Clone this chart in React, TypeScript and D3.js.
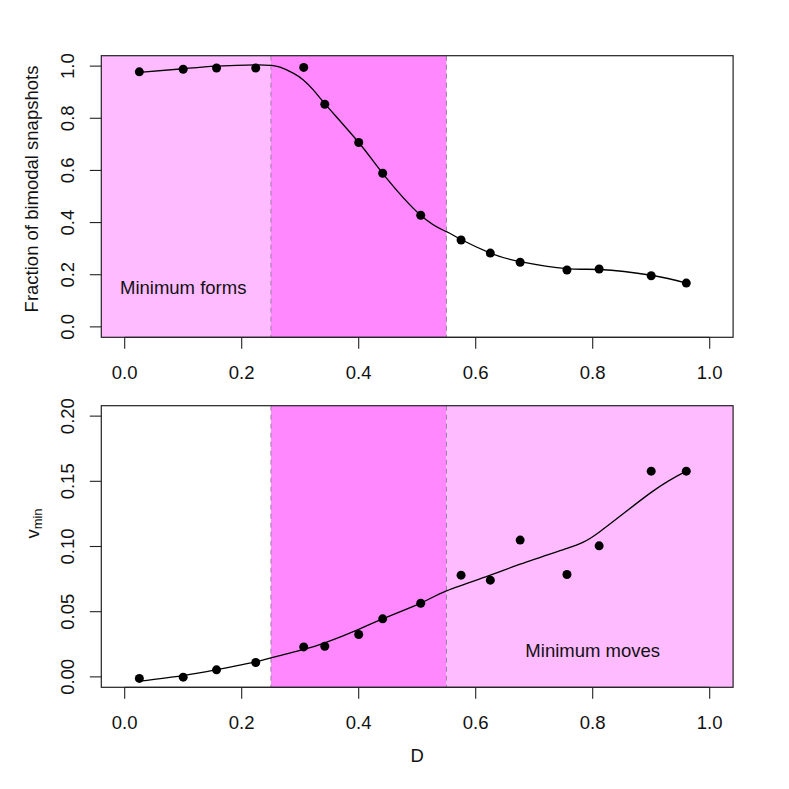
import React from "react";
import * as d3 from "d3";

// ---- data ----
const dValues = [0.025, 0.1, 0.157, 0.224, 0.306, 0.342, 0.4, 0.441, 0.506, 0.575, 0.625, 0.676, 0.756, 0.811, 0.9, 0.96];
const bimodalFraction = [0.978, 0.988, 0.993, 0.993, 0.995, 0.854, 0.707, 0.589, 0.428, 0.333, 0.283, 0.248, 0.218, 0.222, 0.196, 0.168];
const vMin = [-0.0012, -0.0002, 0.0054, 0.011, 0.023, 0.0235, 0.0325, 0.0445, 0.0565, 0.078, 0.0742, 0.1049, 0.0785, 0.1005, 0.1578, 0.1578];

const fitTopX = [0.025, 0.1, 0.157, 0.224, 0.25, 0.2655, 0.288, 0.3053, 0.3224, 0.342, 0.4, 0.441, 0.506, 0.55, 0.575, 0.625, 0.676, 0.756, 0.811, 0.9, 0.96];
const fitTopY = [0.976, 0.99, 1.0, 1.005, 1.003, 0.996, 0.973, 0.947, 0.909, 0.856, 0.707, 0.589, 0.428, 0.365, 0.335, 0.283, 0.25, 0.223, 0.22, 0.198, 0.168];

const fitBottomX = [0.025, 0.1, 0.157, 0.224, 0.25, 0.306, 0.342, 0.4, 0.441, 0.506, 0.55, 0.625, 0.676, 0.756, 0.811, 0.9, 0.96];
const fitBottomY = [-0.0033, 0.001, 0.0055, 0.0115, 0.0146, 0.021, 0.026, 0.0365, 0.0445, 0.0565, 0.066, 0.078, 0.0864, 0.0985, 0.111, 0.1415, 0.1578];

const xTicks = [0, 0.2, 0.4, 0.6, 0.8, 1.0];
const topYTicks = [0, 0.2, 0.4, 0.6, 0.8, 1.0];
const bottomYTicks = [0, 0.05, 0.1, 0.15, 0.2];

const regionBreaks = [0.25, 0.55];

const LIGHT = "#FFBBFF";
const DARK = "#FF88FF";
const FONT = "'Liberation Sans', Arial, Helvetica, sans-serif";
const FS = 18.5;

type PanelProps = {
  top: number;
  bottom: number;
  yDomain: [number, number];
  yTicks: number[];
  yFmt: (v: number) => string;
  ys: number[];
  fitX: number[];
  fitY: number[];
  regions: { x0: number; x1: number; color: string }[];
  note: { text: string; x: number; y: number };
  yLabel: React.ReactNode;
};

const LEFT = 101.3;
const RIGHT = 733.1;
const xDomain: [number, number] = [-0.04, 1.04];

function Panel(p: PanelProps) {
  const x = d3.scaleLinear().domain(xDomain).range([LEFT, RIGHT]);
  const y = d3.scaleLinear().domain(p.yDomain).range([p.bottom, p.top]);
  const line = d3
    .line<number>()
    .x((_, i) => x(p.fitX[i]))
    .y((v) => y(v))
    .curve(d3.curveNatural);
  const fmtX = d3.format(".1f");
  return (
    <g>
      {p.regions.map((r, i) => (
        <rect key={i} x={x(r.x0)} y={p.top} width={x(r.x1) - x(r.x0)} height={p.bottom - p.top} fill={r.color} />
      ))}
      {regionBreaks.map((b, i) => (
        <line key={i} x1={x(b)} x2={x(b)} y1={p.top} y2={p.bottom} stroke="#9a7fa0" strokeWidth={1} strokeDasharray="5,4" />
      ))}
      <path d={line(p.fitY) || ""} fill="none" stroke="#000" strokeWidth={1.3} />
      {dValues.map((d, i) => (
        <circle key={i} cx={x(d)} cy={y(p.ys[i])} r={4.5} fill="#000" />
      ))}
      <text x={x(p.note.x)} y={y(p.note.y)} fontFamily={FONT} fontSize={FS} textAnchor="middle" dominantBaseline="central" fill="#111">
        {p.note.text}
      </text>
      <rect x={LEFT} y={p.top} width={RIGHT - LEFT} height={p.bottom - p.top} fill="none" stroke="#222" strokeWidth={1.2} />
      {/* x axis */}
      <line x1={x(xTicks[0])} x2={x(xTicks[xTicks.length - 1])} y1={p.bottom} y2={p.bottom} stroke="#222" />
      {xTicks.map((t, i) => (
        <g key={i}>
          <line x1={x(t)} x2={x(t)} y1={p.bottom} y2={p.bottom + 11.5} stroke="#222" strokeWidth={1.1} />
          <text x={x(t)} y={p.bottom + 41.7} fontFamily={FONT} fontSize={FS} textAnchor="middle" fill="#111">
            {fmtX(t)}
          </text>
        </g>
      ))}
      {/* y axis */}
      {p.yTicks.map((t, i) => (
        <g key={i}>
          <line x1={LEFT - 11.5} x2={LEFT} y1={y(t)} y2={y(t)} stroke="#222" strokeWidth={1.1} />
          <text transform={`translate(74,${y(t)}) rotate(-90)`} fontFamily={FONT} fontSize={FS} textAnchor="middle" fill="#111">
            {p.yFmt(t)}
          </text>
        </g>
      ))}
      {p.yLabel}
    </g>
  );
}

export default function App() {
  const f1 = d3.format(".1f");
  const f2 = d3.format(".2f");
  return (
    <svg width={789} height={789} style={{ position: "absolute", left: 0, top: 0, background: "#fff" }}>
      <rect x={0} y={0} width={789} height={789} fill="#fff" />
      <Panel
        top={55.7}
        bottom={337.3}
        yDomain={[-0.04, 1.04]}
        yTicks={topYTicks}
        yFmt={f1}
        ys={bimodalFraction}
        fitX={fitTopX}
        fitY={fitTopY}
        regions={[
          { x0: -0.04, x1: 0.25, color: LIGHT },
          { x0: 0.25, x1: 0.55, color: DARK },
        ]}
        note={{ text: "Minimum forms", x: 0.1, y: 0.15 }}
        yLabel={
          <text transform="translate(37.5,189) rotate(-90)" fontFamily={FONT} fontSize={FS} textAnchor="middle" fill="#111">
            Fraction of bimodal snapshots
          </text>
        }
      />
      <Panel
        top={405.7}
        bottom={687.3}
        yDomain={[-0.008, 0.208]}
        yTicks={bottomYTicks}
        yFmt={f2}
        ys={vMin}
        fitX={fitBottomX}
        fitY={fitBottomY}
        regions={[
          { x0: 0.25, x1: 0.55, color: DARK },
          { x0: 0.55, x1: 1.04, color: LIGHT },
        ]}
        note={{ text: "Minimum moves", x: 0.8, y: 0.02 }}
        yLabel={
          <text transform="translate(39,523.5) rotate(-90)" fontFamily={FONT} fontSize={FS} textAnchor="middle" fill="#111">
            v<tspan fontSize={13} dy={2.5}>min</tspan>
          </text>
        }
      />
      <text x={417.3} y={762.3} fontFamily={FONT} fontSize={FS} textAnchor="middle" fill="#111">
        D
      </text>
    </svg>
  );
}
